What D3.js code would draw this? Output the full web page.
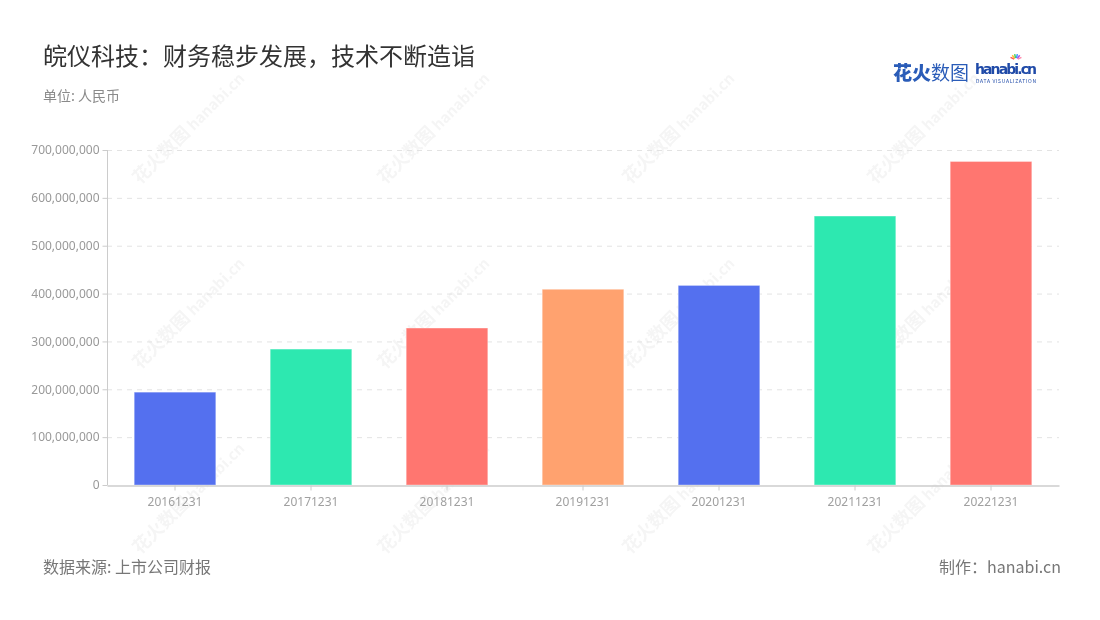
<!DOCTYPE html>
<html><head><meta charset="utf-8">
<script src="https://cdn.jsdelivr.net/npm/d3@7/dist/d3.min.js"></script>
<style>body{margin:0;background:#fff;}svg{font-family:"Noto Sans CJK SC","Noto Sans",sans-serif;}</style>
</head><body><svg id="c" width="1100" height="620"></svg>
<script>
const categories = ["20161231","20171231","20181231","20191231","20201231","20211231","20221231"];
const values = [194000000,284000000,328000000,409000000,417000000,562000000,676000000];
const colors = ["#5470ef","#2de8b0","#ff7670","#ffa26f","#5470ef","#2de8b0","#ff7670"];
const yTicks = [0,100000000,200000000,300000000,400000000,500000000,600000000,700000000];

const svg = d3.select("#c");
const m = {l:107, r:1059, t:150, b:485};
const x = d3.scaleBand().domain(categories).range([m.l,m.r]).padding(0);
const y = d3.scaleLinear().domain([0,700000000]).range([m.b,m.t]);

// watermarks
const wm = svg.append("g").attr("opacity",0.05);
const wx=[140,385,630,875], wy=[185,370,555];
wx.forEach(px=>wy.forEach(py=>{
  const g=wm.append("g").attr("transform",`translate(${px},${py}) rotate(-45)`);
  g.append("text").attr("font-size",18).attr("font-weight",700).attr("fill","#333").text("花火数图");
  g.append("text").attr("x",76).attr("font-size",15).attr("font-weight",700).attr("fill","#333").text("hanabi.cn");
}));

// grid
svg.append("g").selectAll("line").data(yTicks.slice(1)).join("line")
  .attr("x1",m.l).attr("x2",m.r).attr("y1",d=>y(d)+0.5).attr("y2",d=>y(d)+0.5)
  .attr("stroke","#e3e3e3").attr("stroke-dasharray","5,5");

// y axis
const ya = svg.append("g").attr("transform",`translate(${m.l+0.5},0)`)
  .call(d3.axisLeft(y).tickValues(yTicks).tickFormat(d3.format(",")).tickSize(5).tickPadding(3));
ya.select(".domain").attr("stroke","#ccc").attr("d",`M0,${m.t}V${m.b}`);
ya.selectAll(".tick line").attr("stroke","#ccc");
ya.selectAll(".tick text").attr("fill","#999").attr("font-size",12).attr("font-family","'Noto Sans',sans-serif");

// bars
svg.append("g").selectAll("rect").data(values).join("rect")
  .attr("x",(d,i)=>x(categories[i])+x.bandwidth()*0.2)
  .attr("width",x.bandwidth()*0.6)
  .attr("y",d=>y(d)).attr("height",d=>y(0)-y(d))
  .attr("fill",(d,i)=>colors[i]).attr("stroke","rgba(255,255,255,0.35)").attr("stroke-width",1);

// x axis
const xa = svg.append("g").attr("transform",`translate(0,${m.b+0.5})`)
  .call(d3.axisBottom(x).tickSize(5).tickPadding(7).tickSizeOuter(0));
xa.select(".domain").attr("stroke","#ccc").attr("stroke-width",1.5);
xa.selectAll(".tick line").attr("stroke","#ccc");
xa.selectAll(".tick text").attr("fill","#a0a0a0").attr("font-size",12).attr("font-family","'Noto Sans',sans-serif");

// titles
svg.append("text").attr("x",43).attr("y",65).attr("font-size",24).attr("fill","#333").text("皖仪科技：财务稳步发展，技术不断造诣");
svg.append("text").attr("x",43).attr("y",101).attr("font-size",14).attr("fill","#8a8a8a").text("单位: 人民币");
svg.append("text").attr("x",43).attr("y",573).attr("font-size",16).attr("fill","#777").text("数据来源: 上市公司财报");
svg.append("text").attr("x",1061).attr("y",573).attr("text-anchor","end").attr("font-size",16).attr("fill","#777").text("制作：hanabi.cn");

// logo
svg.append("text").attr("x",893).attr("y",80).attr("font-size",19).attr("font-weight",900).attr("fill","#2a5cb8").text("花火");
svg.append("text").attr("x",931).attr("y",80).attr("font-size",19).attr("fill","#2a5cb8").text("数图");
svg.append("text").attr("x",975).attr("y",74).attr("font-size",14).attr("font-weight",700).attr("fill","#1f4aa8").attr("font-family","'DejaVu Sans',sans-serif").attr("textLength",62).text("hanabi.cn");
svg.append("text").attr("x",976).attr("y",83).attr("font-size",5).attr("fill","#1f4aa8").attr("textLength",60).text("DATA VISUALIZATION");
const sp = svg.append("g").attr("transform","translate(1016,60)");
["#f55","#fb3","#4c6","#39f","#a5e","#f8a"].forEach((c,i)=>{
  const a=-Math.PI/2+(i-2.5)*0.45;
  sp.append("line").attr("x1",Math.cos(a)*2).attr("y1",Math.sin(a)*2).attr("x2",Math.cos(a)*6).attr("y2",Math.sin(a)*6).attr("stroke",c).attr("stroke-width",1.5);
});
</script></body></html>
